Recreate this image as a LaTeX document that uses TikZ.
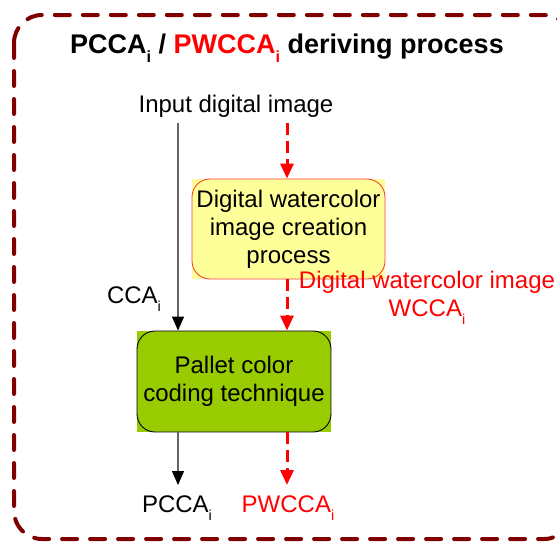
\documentclass[tikz,border=0pt]{standalone}
\usepackage{fontspec}
\setmainfont{Liberation Sans}
\usetikzlibrary{arrows.meta,backgrounds}
\definecolor{framered}{RGB}{128,0,0}
\definecolor{wcyellow}{RGB}{255,255,153}
\definecolor{pcgreen}{RGB}{153,204,0}
\definecolor{wcborder}{RGB}{255,60,60}
\definecolor{flowgray}{RGB}{100,100,100}
\tikzset{
  txt/.style={inner sep=0pt, align=center, font=\fontsize{24}{28}\selectfont},
  redtxt/.style={txt, text=red},
  procbox/.style={txt, rounded corners=18, minimum width=193, minimum height=100},
  solidflow/.style={draw=flowgray, line width=1.3, -{Triangle[width=12,length=14,fill=black,color=black]}},
  dashflow/.style={draw=red, line width=3, dash pattern=on 12 off 6, -{Triangle[width=13,length=15]}},
}
% small, lowered index letter
\newcommand{\sbi}{\raisebox{-0.33em}{\scalebox{0.6}{i}}}
\begin{document}
\begin{tikzpicture}[x=1pt,y=-1pt]
  \useasboundingbox (0,0) rectangle (557,541);
  \clip (0,0) rectangle (557,541);

  % outer frame
  \draw[framered, line width=4, dash pattern=on 15 off 13, line cap=round, rounded corners=28]
    (14,15) rectangle (572,539);

  % title
  \node[inner sep=0pt, font=\fontsize{27}{32}\selectfont\bfseries] (title) at (287,48)
    {PCCA\sbi{} / \textcolor{red}{PWCCA\sbi} deriving process};

  % input
  \node[txt] (input) at (236,106) {Input digital image};

  % process boxes
  \node[procbox, draw=wcborder, line width=0.9] (wc) at (288.5,229) {Digital watercolor\\image creation\\process};
  \node[procbox, draw=black, line width=0.9, minimum width=194, minimum height=101] (pc) at (234,381.5) {Pallet color\\coding technique};
  \begin{scope}[on background layer]
    \fill[wcyellow] (wc.south west) rectangle (wc.north east);
    \fill[pcgreen] (pc.south west) rectangle (pc.north east);
  \end{scope}

  % column positions of the flows
  \coordinate (colA) at (178,0);
  \coordinate (colB) at (287,0);

  % labels
  \node[txt] (cca) at (134,299) {CCA\sbi};
  \node[redtxt] (wlabel) at (427,298) {Digital watercolor image\\WCCA\sbi};
  \node[txt] (pcca) at (177,508) {PCCA\sbi};
  \node[redtxt] (pwcca) at (288,508) {PWCCA\sbi};

  % flows
  \draw[solidflow] (colA |- 0,123) -- (pc.north -| colA);
  \draw[dashflow] (colB |- 0,123) -- (wc.north -| colB);
  \draw[dashflow] (wc.south -| colB) -- (pc.north -| colB);
  \draw[solidflow] (pc.south -| colA) -- (colA |- 0,485);
  \draw[dashflow] (pc.south -| colB) -- (colB |- 0,485);
\end{tikzpicture}
\end{document}
